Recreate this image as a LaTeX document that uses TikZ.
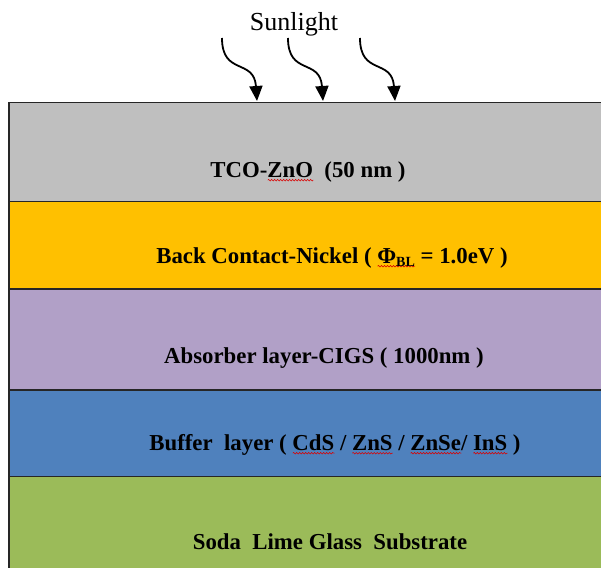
\documentclass[tikz,border=0pt]{standalone}
\usepackage{fontspec}
\setmainfont{Liberation Serif}
\usetikzlibrary{arrows.meta,decorations.pathmorphing,calc}

\definecolor{tcogray}{HTML}{BFBFBF}
\definecolor{contactorange}{HTML}{FFC000}
\definecolor{absorberpurple}{HTML}{B1A0C7}
\definecolor{bufferblue}{HTML}{4F81BD}
\definecolor{glassgreen}{HTML}{9BBB59}
\definecolor{edgeline}{HTML}{262626}

% red wavy underline under a word
\newcommand\squig[1]{\leavevmode\setbox0=\hbox{#1}%
  \rlap{\raisebox{-3.2pt}{\tikz[baseline=0pt]\draw[red!85!black,line width=0.55pt,
     decorate,decoration={snake,amplitude=0.8pt,segment length=3pt}] (0,0) -- (\wd0,0);}}%
  \box0\relax}

\tikzset{
  layerbox/.style={draw=edgeline,line width=1.3pt},
  layertext/.style={anchor=base,font=\fontsize{22.8}{26}\selectfont\bfseries,text=black,inner sep=0pt},
  ray/.style={line width=1.8pt,-{Triangle[width=13pt,length=15pt]}}
}

\begin{document}
\begin{tikzpicture}[x=1pt,y=-1pt]
\useasboundingbox (0,0) rectangle (601,567);
\begin{scope}
\clip (0,0) rectangle (601,567);
% stacked layers
\path[layerbox,fill=glassgreen]     (9,476.7) rectangle (610,580);
\path[layerbox,fill=bufferblue]     (9,390)   rectangle (610,476.7);
\path[layerbox,fill=absorberpurple] (9,289)   rectangle (610,390);
\path[layerbox,fill=contactorange]  (9,201.7) rectangle (610,289);
\path[layerbox,fill=tcogray]        (9,102.5) rectangle (610,201.7);
\end{scope}

% layer labels
\node[layertext] (tco) at (308,177) {TCO-\squig{ZnO}~ (50 nm )};
\node[layertext] (contact) at (332,263) {Back Contact-Nickel ( \squig{Φ\raisebox{-3pt}{\fontsize{14}{16}\selectfont BL}} = 1.0eV )};
\node[layertext] (absorber) at (324,363) {Absorber layer-CIGS ( 1000nm )};
\node[layertext] (buffer) at (335,450) {Buffer~ layer ( \squig{CdS} / \squig{ZnS} / \squig{ZnSe}/ \squig{InS} )};
\node[layertext] (glass) at (330,549) {Soda~ Lime Glass~ Substrate};

% incoming light
\node[anchor=base,font=\fontsize{26}{30}\selectfont,inner sep=0pt] (sun) at (294,31) {Sunlight};
\foreach \i/\x in {1/222,2/288,3/360}{
  \coordinate (s\i) at (\x,38);
  \coordinate (t\i) at ({\x+35},101);
  \draw[ray] (s\i) .. controls ($(s\i)+(0,38)$) and ($(s\i)+(32,20)$) .. (t\i);
}
\end{tikzpicture}
\end{document}
